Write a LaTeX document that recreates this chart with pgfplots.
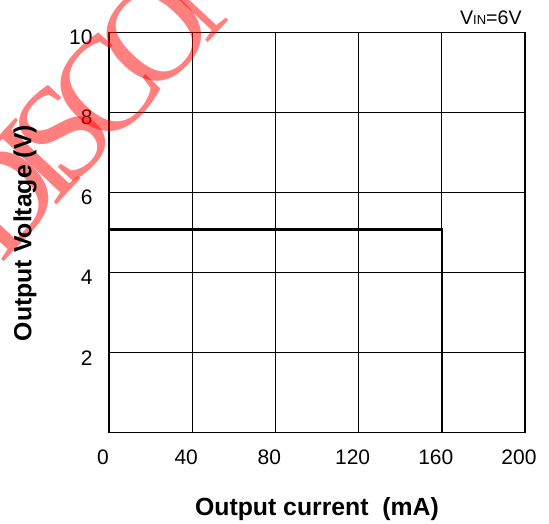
\documentclass[border=0pt]{standalone}
\usepackage{pgfplots}
\pgfplotsset{compat=1.18}
\usepackage{fontspec}
\setmainfont{Liberation Sans}
\newfontfamily\wmfont[LetterSpace=-16]{Liberation Serif}
\begin{document}
\begin{tikzpicture}
\begin{axis}[name=ax, scale only axis, width=208pt, height=200pt,
  xmin=0, xmax=200, ymin=0, ymax=10,
  xtick={0,40,80,120,160,200}, ytick={2,4,6,8,10},
  grid=major, major grid style={black, line width=0.6pt},
  axis line style={black, line width=0.6pt},
  tick style={draw=none},
  /pgf/number format/assume math mode=true,
  ticklabel style={font=\fontsize{10.5}{12}\selectfont, inner sep=0pt},
  xticklabel style={anchor=center, yshift=-12.5pt, xshift=-3pt},
  yticklabel style={anchor=east, xshift=-8pt, yshift=-2.5pt},
  xlabel={Output current\ \ (mA)}, ylabel={Output Voltage (V)},
  label style={font=\bfseries\fontsize{12.4}{14}\selectfont},
  xlabel style={at={(axis description cs:0.5,-0.19)}, anchor=center},
  ylabel style={at={(axis description cs:-0.202,0.499)}, anchor=center},
  clip=false]
\addplot[black, line width=1.3pt] coordinates {(0,5.08) (160,5.08) (160,0)};
\node[anchor=base east, inner sep=0pt, font=\fontsize{9.8}{11}\selectfont] at ([xshift=-1.5pt,yshift=3.85pt]rel axis cs:1,1) {V{\fontsize{6.5}{7}\selectfont IN}=6V};
\node[rotate=47, anchor=base west, inner sep=0pt, text=red, opacity=0.5, font=\wmfont\fontsize{68}{68}\selectfont] at (axis cs:-52.0,4.21) {DISCONTINUED};
\end{axis}
\pgfresetboundingbox
\useasboundingbox ([xshift=-54.5pt,yshift=-45.15pt]ax.south west) rectangle ([xshift=12pt,yshift=16.35pt]ax.north east);
\end{tikzpicture}
\end{document}
